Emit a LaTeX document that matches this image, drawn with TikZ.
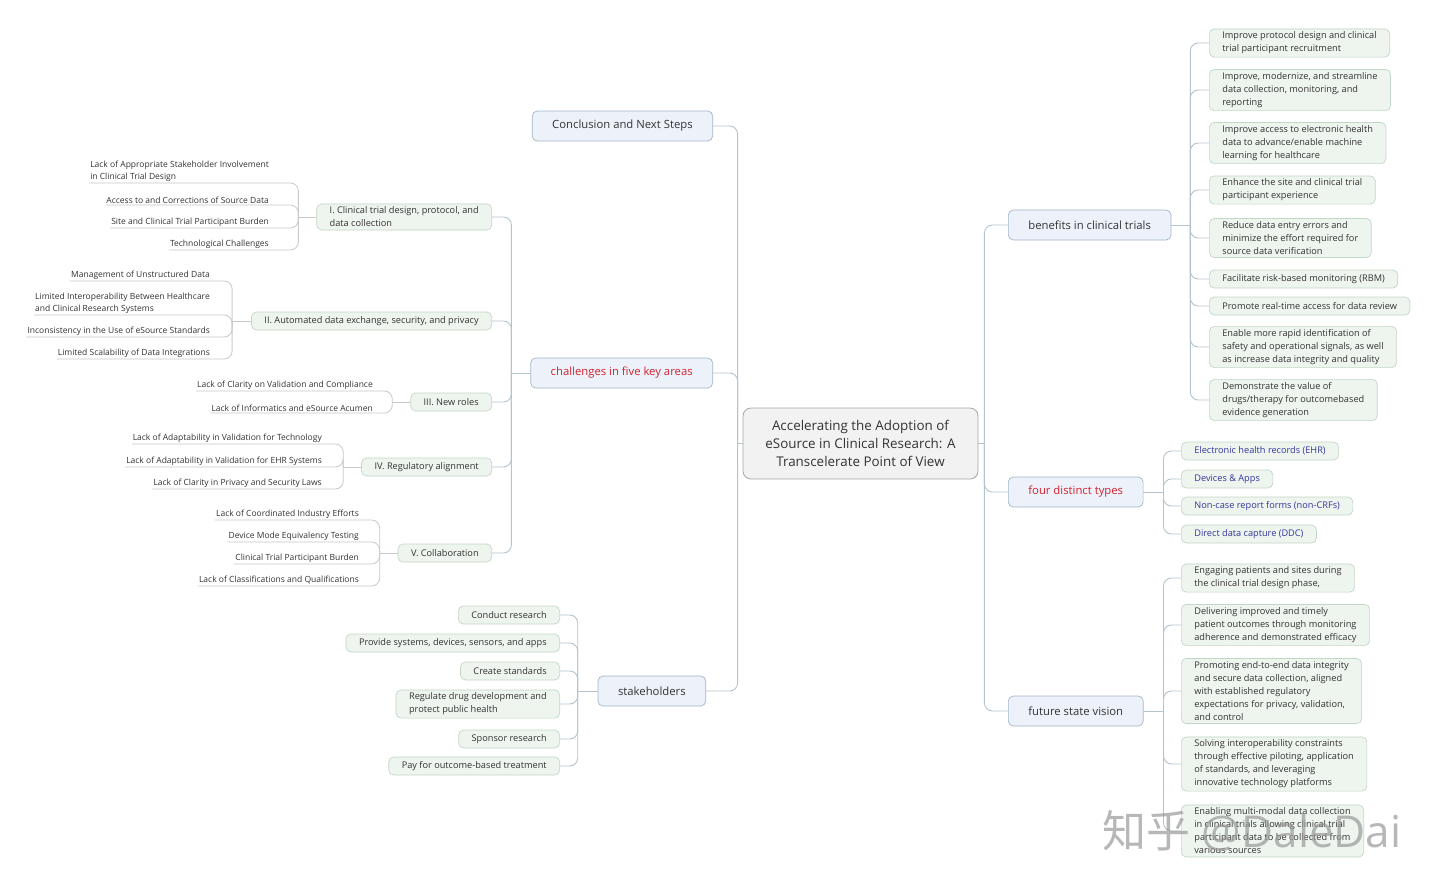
\documentclass[tikz,border=0pt]{standalone}
\usepackage{fontspec}
\setmainfont{Open Sans}
\newfontfamily\cjk{Noto Sans CJK SC}
\usetikzlibrary{calc}

\definecolor{linkc}{HTML}{B4C4CE}
\definecolor{leafc}{HTML}{C6CACA}
\definecolor{rootfill}{HTML}{F2F2F2}
\definecolor{rootdraw}{HTML}{A6A6A6}
\definecolor{mainfill}{HTML}{EDF2FA}
\definecolor{maindraw}{HTML}{A3B5C7}
\definecolor{subfill}{HTML}{EEF5EF}
\definecolor{subdraw}{HTML}{C2D8C6}
\definecolor{txt}{HTML}{333333}
\definecolor{redtxt}{HTML}{D3202E}
\definecolor{bluetxt}{HTML}{35359E}

\tikzset{
  root/.style={draw=rootdraw, fill=rootfill, rounded corners=8pt, line width=0.8pt,
    align=center, font=\fontsize{13.4}{18}\selectfont, text=txt,
    minimum width=235pt, minimum height=71pt, inner sep=4pt},
  topic/.style={draw=maindraw, fill=mainfill, rounded corners=5pt, line width=0.7pt,
    font=\fontsize{11.3}{13}\selectfont, text=txt, minimum height=30pt, inner xsep=20pt},
  subbox/.style={draw=subdraw, fill=subfill, rounded corners=5pt, line width=0.7pt,
    align=left, font=\fontsize{9.2}{13}\selectfont, text=txt, minimum height=18pt,
    inner xsep=13pt, inner ysep=3pt},
  leaf/.style={align=left, font=\fontsize{8.5}{11.5}\selectfont, text=txt,
    inner xsep=1pt, inner ysep=1.5pt, anchor=south east},
  link/.style={draw=linkc, line width=0.9pt, rounded corners=8pt},
  leafline/.style={draw=leafc, line width=0.8pt, rounded corners=8pt},
}

\begin{document}
\begin{tikzpicture}[x=1pt, y=-1pt]
		%%%%% START %%%%%
		\useasboundingbox[fill=white] (0,0) rectangle (1440,887);
		
		\node[root] (root) at (860.5,443.5) {Accelerating the Adoption of\\eSource in Clinical Research: A\\Transcelerate Point of View};
		
		% main topics
		\node[topic, anchor=east] (concl) at (713,126) {Conclusion and Next Steps};
		\node[topic, anchor=east, text=redtxt] (chal) at (713,373) {challenges in five key areas};
		\node[topic, anchor=east] (stake) at (706,691) {stakeholders};
		\node[topic, anchor=west] (ben) at (1008,225) {benefits in clinical trials};
		\node[topic, anchor=west, text=redtxt] (types) at (1008,492) {four distinct types};
		\node[topic, anchor=west] (future) at (1008,711) {future state vision};
		
		% five key areas
		\node[subbox, anchor=east] (c1) at (492,217) {I. Clinical trial design, protocol, and\\data collection};
		\node[subbox, anchor=east] (c2) at (492,321) {II. Automated data exchange, security, and privacy};
		\node[subbox, anchor=east] (c3) at (492,402) {III. New roles};
		\node[subbox, anchor=east] (c4) at (492,467) {IV. Regulatory alignment};
		\node[subbox, anchor=east] (c5) at (492,553) {V. Collaboration};
		
		\node[leaf] (la1) at (270,183) {Lack of Appropriate Stakeholder Involvement\\in Clinical Trial Design};
		\node[leaf] (la2) at (270,205) {Access to and Corrections of Source Data};
		\node[leaf] (la3) at (270,228) {Site and Clinical Trial Participant Burden};
		\node[leaf] (la4) at (270,250) {Technological Challenges};
		
		\node[leaf] (lb1) at (211,281) {Management of Unstructured Data};
		\node[leaf] (lb2) at (211,315) {Limited Interoperability Between Healthcare\\and Clinical Research Systems};
		\node[leaf] (lb3) at (211,337) {Inconsistency in the Use of eSource Standards};
		\node[leaf] (lb4) at (211,359) {Limited Scalability of Data Integrations};
		
		\node[leaf] (lc1) at (374,391) {Lack of Clarity on Validation and Compliance};
		\node[leaf] (lc2) at (374,413) {Lack of Informatics and eSource Acumen};
		
		\node[leaf] (ld1) at (323,444) {Lack of Adaptability in Validation for Technology};
		\node[leaf] (ld2) at (323,467) {Lack of Adaptability in Validation for EHR Systems};
		\node[leaf] (ld3) at (323,489) {Lack of Clarity in Privacy and Security Laws};
		
		\node[leaf] (le1) at (360,520) {Lack of Coordinated Industry Efforts};
		\node[leaf] (le2) at (360,542) {Device Mode Equivalency Testing};
		\node[leaf] (le3) at (360,564) {Clinical Trial Participant Burden};
		\node[leaf] (le4) at (360,586) {Lack of Classifications and Qualifications};
		
		% stakeholders
		\node[subbox, anchor=east] (s1) at (560,615) {Conduct research};
		\node[subbox, anchor=east] (s2) at (560,643) {Provide systems, devices, sensors, and apps};
		\node[subbox, anchor=east] (s3) at (560,671) {Create standards};
		\node[subbox, anchor=east] (s4) at (560,704) {Regulate drug development and\\protect public health};
		\node[subbox, anchor=east] (s5) at (560,739) {Sponsor research};
		\node[subbox, anchor=east] (s6) at (560,766) {Pay for outcome-based treatment};
		
		% benefits
		\node[subbox, anchor=west] (b1) at (1209,43) {Improve protocol design and clinical\\trial participant recruitment};
		\node[subbox, anchor=west] (b2) at (1209,90) {Improve, modernize, and streamline\\data collection, monitoring, and\\reporting};
		\node[subbox, anchor=west] (b3) at (1209,143) {Improve access to electronic health\\data to advance/enable machine\\learning for healthcare};
		\node[subbox, anchor=west] (b4) at (1209,190) {Enhance the site and clinical trial\\participant experience};
		\node[subbox, anchor=west] (b5) at (1209,238) {Reduce data entry errors and\\minimize the effort required for\\source data verification};
		\node[subbox, anchor=west] (b6) at (1209,279) {Facilitate risk-based monitoring (RBM)};
		\node[subbox, anchor=west] (b7) at (1209,306) {Promote real-time access for data review};
		\node[subbox, anchor=west] (b8) at (1209,347) {Enable more rapid identification of\\safety and operational signals, as well\\as increase data integrity and quality};
		\node[subbox, anchor=west] (b9) at (1209,400) {Demonstrate the value of\\drugs/therapy for outcomebased\\evidence generation};
		
		% four types
		\node[subbox, anchor=west, text=bluetxt] (t1) at (1181,451) {Electronic health records (EHR)};
		\node[subbox, anchor=west, text=bluetxt] (t2) at (1181,479) {Devices \& Apps};
		\node[subbox, anchor=west, text=bluetxt] (t3) at (1181,506) {Non-case report forms (non-CRFs)};
		\node[subbox, anchor=west, text=bluetxt] (t4) at (1181,534) {Direct data capture (DDC)};
		
		% future state
		\node[subbox, anchor=west] (f1) at (1181,578) {Engaging patients and sites during\\the clinical trial design phase,};
		\node[subbox, anchor=west] (f2) at (1181,625) {Delivering improved and timely\\patient outcomes through monitoring\\adherence and demonstrated efficacy};
		\node[subbox, anchor=west] (f3) at (1181,691) {Promoting end-to-end data integrity\\and secure data collection, aligned\\with established regulatory\\expectations for privacy, validation,\\and control};
		\node[subbox, anchor=west] (f4) at (1181,764) {Solving interoperability constraints\\through effective piloting, application\\of standards, and leveraging\\innovative technology platforms};
		\node[subbox, anchor=west] (f5) at (1181,831) {Enabling multi-modal data collection\\in clinical trials allowing clinical trial\\participant data to be collected from\\various sources};
		
		% junctions
		\coordinate (jl) at ($(root.west)+(-5,0)$);
		\coordinate (jr) at ($(root.east)+(6,0)$);
		\coordinate (jchal) at ($(chal.west)+(-19,0)$);
		\coordinate (jstake) at ($(stake.west)+(-20,0)$);
		\coordinate (jben) at ($(ben.east)+(19,0)$);
		\coordinate (jtypes) at ($(types.east)+(20,0)$);
		\coordinate (jfut) at ($(future.east)+(20,0)$);
		\coordinate (ja) at ($(c1.west)+(-18,0)$);
		\coordinate (jb) at ($(c2.west)+(-19,0)$);
		\coordinate (jc) at ($(c3.west)+(-18,0)$);
		\coordinate (jd) at ($(c4.west)+(-18,0)$);
		\coordinate (je) at ($(c5.west)+(-18,0)$);
		
		% connectors
		\draw[link] (root.west) -- (jl);
		\draw[link] (root.east) -- (jr);
		\foreach \t in {concl,chal,stake} \draw[link] (jl) |- (\t.east);
		\foreach \t in {ben,types,future} \draw[link] (jr) |- (\t.west);
		
		\draw[link] (chal.west) -- (jchal);
		\foreach \i in {1,...,5} \draw[link] (jchal) |- (c\i.east);
		\draw[link] (stake.west) -- (jstake);
		\foreach \i in {1,...,6} \draw[link] (jstake) |- (s\i.east);
		\draw[link] (ben.east) -- (jben);
		\foreach \i in {1,...,9} \draw[link] (jben) |- (b\i.west);
		\draw[link] (types.east) -- (jtypes);
		\foreach \i in {1,...,4} \draw[link] (jtypes) |- (t\i.west);
		\draw[link] (future.east) -- (jfut);
		\foreach \i in {1,...,5} \draw[link] (jfut) |- (f\i.west);
		
		\draw[leafline] (c1.west) -- (ja);
		\foreach \i in {1,...,4} \draw[leafline] (ja) |- (la\i.south east) -- (la\i.south west);
		\draw[leafline] (c2.west) -- (jb);
		\foreach \i in {1,...,4} \draw[leafline] (jb) |- (lb\i.south east) -- (lb\i.south west);
		\draw[leafline] (c3.west) -- (jc);
		\foreach \i in {1,2} \draw[leafline] (jc) |- (lc\i.south east) -- (lc\i.south west);
		\draw[leafline] (c4.west) -- (jd);
		\foreach \i in {1,2,3} \draw[leafline] (jd) |- (ld\i.south east) -- (ld\i.south west);
		\draw[leafline] (c5.west) -- (je);
		\foreach \i in {1,...,4} \draw[leafline] (je) |- (le\i.south east) -- (le\i.south west);
		
		% watermark
		\node[text=black!40, opacity=0.7, font=\fontsize{44}{44}\selectfont, inner sep=0pt] (wm) at (1252,831) {{\cjk 知乎} @DaleDai};
		
		%%%%% END %%%%%
\end{tikzpicture}
\end{document}
